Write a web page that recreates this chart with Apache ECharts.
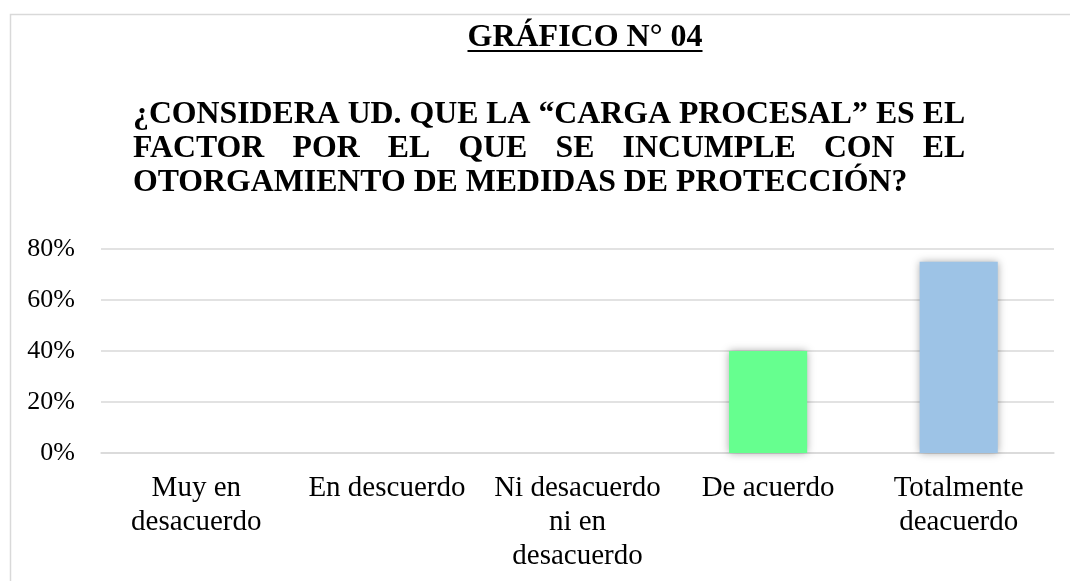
<!DOCTYPE html>
<html>
<head>
<meta charset="utf-8">
<script src="https://cdn.jsdelivr.net/npm/echarts@6/dist/echarts.min.js"></script>
<style>
html,body{margin:0;padding:0;background:#fff;}
#c{width:1070px;height:581px;}
</style>
</head>
<body>
<div id="c"></div>
<script>
const categories = ['Muy en\ndesacuerdo', 'En descuerdo', 'Ni desacuerdo\nni en\ndesacuerdo', 'De acuerdo', 'Totalmente\ndeacuerdo'];
const values = [0, 0, 0, 40, 75];
const barColors = ['#9DC3E6', '#9DC3E6', '#9DC3E6', '#66FF8F', '#9DC3E6'];
const yTicks = [0, 20, 40, 60, 80];
const titleText = 'GRÁFICO N° 04';
const subtitleLines = [
  '¿CONSIDERA UD. QUE LA “CARGA PROCESAL” ES EL',
  'FACTOR POR EL QUE SE INCUMPLE CON EL',
  'OTORGAMIENTO DE MEDIDAS DE PROTECCIÓN?'
];

const FONT = '"Liberation Serif", "Times New Roman", serif';
const ctx = document.createElement('canvas').getContext('2d');
function measure(txt, size, weight) {
  ctx.font = (weight || 'normal') + ' ' + size + 'px ' + FONT;
  return ctx.measureText(txt).width;
}

const subSize = 31.8;
const subLeft = 133;
const subRight = subLeft + measure(subtitleLines[0], subSize, 'bold');
const lineTops = [99, 133, 167];
const graphics = [];

// border
graphics.push({type: 'rect', left: 8, top: 12, shape: {x: 0, y: 0, width: 1100, height: 620},
  style: {fill: 'none', stroke: '#d9d9d9', lineWidth: 1.5}, silent: true});

// title
const tSize = 32;
const tW = measure(titleText, tSize, 'bold');
const tCenter = 585;
graphics.push({type: 'text', x: tCenter - tW / 2, y: 22,
  style: {text: titleText, font: 'bold ' + tSize + 'px ' + FONT, fill: '#000', textVerticalAlign: 'top'}});
graphics.push({type: 'line', shape: {x1: tCenter - tW / 2, y1: 51, x2: tCenter + tW / 2, y2: 51},
  style: {stroke: '#000', lineWidth: 2}});

// subtitle: line 2 justified, others left aligned
subtitleLines.forEach(function (line, i) {
  const font = 'bold ' + subSize + 'px ' + FONT;
  if (i === 1) {
    const words = line.split(' ');
    const widths = words.map(function (w) { return measure(w, subSize, 'bold'); });
    const total = widths.reduce(function (a, b) { return a + b; }, 0);
    const gap = (subRight - subLeft - total) / (words.length - 1);
    let x = subLeft;
    words.forEach(function (w, k) {
      graphics.push({type: 'text', x: x, y: lineTops[i],
        style: {text: w, font: font, fill: '#000', textVerticalAlign: 'top'}});
      x += widths[k] + gap;
    });
  } else {
    graphics.push({type: 'text', x: subLeft, y: lineTops[i],
      style: {text: line, font: font, fill: '#000', textVerticalAlign: 'top'}});
  }
});

const chart = echarts.init(document.getElementById('c'));
chart.setOption({
  backgroundColor: '#fff',
  animation: false,
  graphic: graphics,
  grid: {left: 101, right: 16, top: 249, bottom: 128, containLabel: false},
  xAxis: {
    type: 'category',
    data: categories,
    axisLine: {show: true, lineStyle: {color: '#d9d9d9', width: 1.5}},
    axisTick: {show: false},
    axisLabel: {color: '#000', fontFamily: FONT, fontSize: 29, lineHeight: 34, margin: 18, interval: 0}
  },
  yAxis: {
    type: 'value',
    min: 0, max: 80, interval: 20,
    axisLine: {show: false},
    axisTick: {show: false},
    splitLine: {lineStyle: {color: '#d9d9d9', width: 1.5}},
    axisLabel: {color: '#000', fontFamily: FONT, fontSize: 26, margin: 26,
      formatter: function (v) { return yTicks.indexOf(v) >= 0 ? v + '%' : ''; }}
  },
  series: [{
    type: 'bar',
    data: values.map(function (v, i) { return {value: v, itemStyle: {color: barColors[i]}}; }),
    barWidth: '41%',
    itemStyle: {shadowBlur: 8, shadowColor: 'rgba(0,0,0,0.35)', shadowOffsetX: 0, shadowOffsetY: 0}
  }]
});
</script>
</body>
</html>
